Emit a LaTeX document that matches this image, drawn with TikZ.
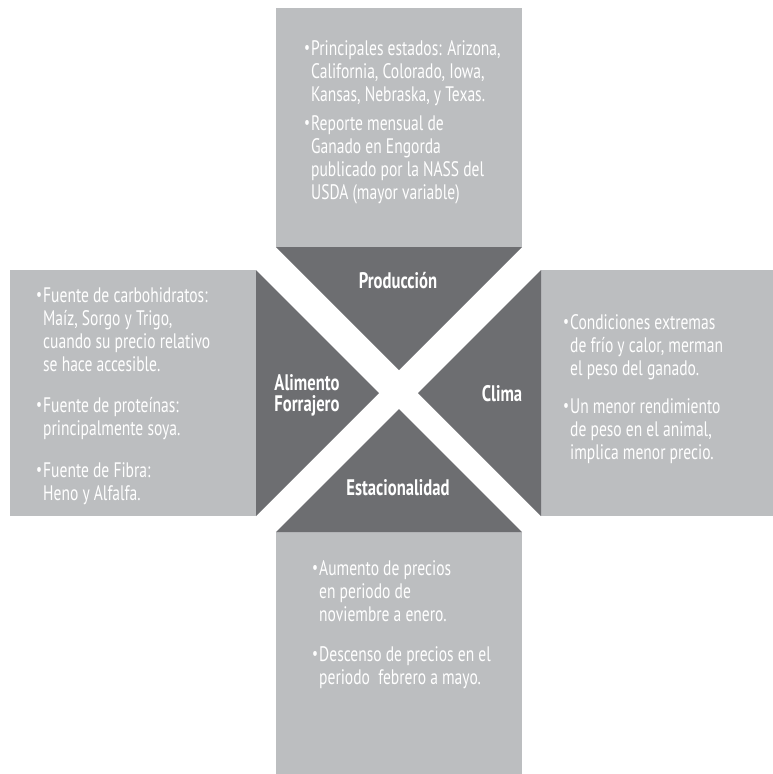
\documentclass[tikz,border=0pt]{standalone}
\usepackage{fontspec}
\setmainfont{PT Sans}[FakeStretch=0.74]
\usepackage{graphicx}
\definecolor{lightbox}{HTML}{BCBEC0}
\definecolor{darkbox}{HTML}{6D6E71}
\newcommand{\bitem}[1]{\parbox[t]{240pt}{\raggedright\fontsize{21}{23}\selectfont\noindent\llap{\raisebox{0.1ex}{\scalebox{0.85}{\textbullet}}\hspace{1.2pt}}#1}}
\begin{document}
\begin{tikzpicture}[x=1pt,y=-1pt,
  body/.style={anchor=base west, inner sep=0pt, text=white},
  head/.style={inner sep=0pt, text=white, font=\fontsize{22.5}{21}\selectfont\bfseries, align=center},
  lightfill/.style={fill=lightbox},
  darkfill/.style={fill=darkbox}]
\useasboundingbox (0,0) rectangle (773,774);
% light boxes
\fill[lightfill] (276,8) rectangle (522,247);
\fill[lightfill] (10,270) rectangle (256,516);
\fill[lightfill] (541,270) rectangle (773,516);
\fill[lightfill] (276,532) rectangle (522,774);
% dark triangles
\fill[darkfill] (276,247) -- (522,247) -- (399,370) -- cycle;
\fill[darkfill] (256,270) -- (256,516) -- (379,393) -- cycle;
\fill[darkfill] (541,270) -- (541,516) -- (418,393) -- cycle;
\fill[darkfill] (276,532) -- (522,532) -- (399,409) -- cycle;
% headings
\node[head] (prod) at (398,281) {Producción};
\node[head] (alim) at (307,395) {Alimento\\Forrajero};
\node[head] (clima) at (502,394) {Clima};
\node[head] (esta) at (398,488) {Estacionalidad};
% texts
\node[body] (top1) at (311,55) {\bitem{Principales estados: Arizona,\\California, Colorado, Iowa,\\Kansas, Nebraska, y Texas.}};
\node[body] (top2) at (311,130) {\bitem{Reporte mensual de\\Ganado en Engorda\\publicado por la NASS del\\USDA (mayor variable)}};
\node[body] (left1) at (43,302) {\bitem{Fuente de carbohidratos:\\Maíz, Sorgo y Trigo,\\cuando su precio relativo\\se hace accesible.}};
\node[body] (left2) at (43,412) {\bitem{Fuente de proteínas:\\principalmente soya.}};
\node[body] (left3) at (43,477) {\bitem{Fuente de Fibra:\\Heno y Alfalfa.}};
\node[body] (right1) at (570,329) {\bitem{Condiciones extremas\\de frío y calor, merman\\el peso del ganado.}};
\node[body] (right2) at (570,413) {\bitem{Un menor rendimiento\\de peso en el animal,\\implica menor precio.}};
\node[body] (bot1) at (319,575) {\bitem{Aumento de precios\\en periodo de\\noviembre a enero.}};
\node[body] (bot2) at (319,661) {\bitem{Descenso de precios en el\\periodo~ febrero a mayo.}};
\end{tikzpicture}
\end{document}
